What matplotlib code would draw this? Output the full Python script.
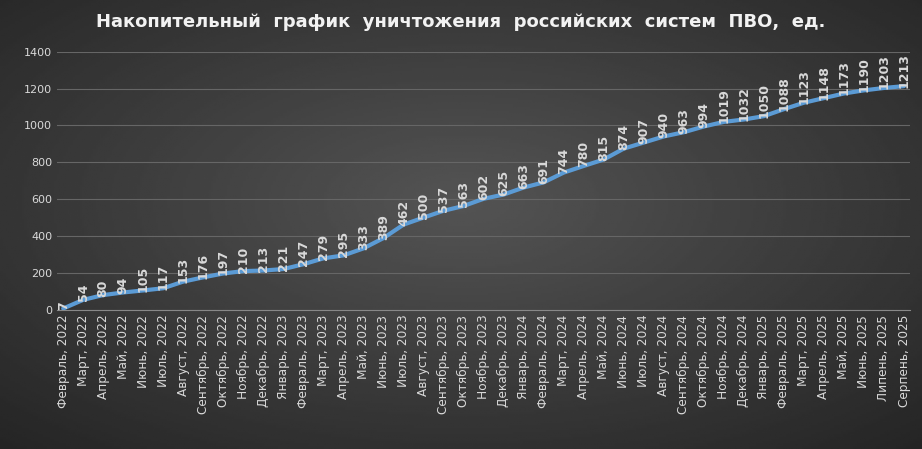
import numpy as np
import matplotlib.pyplot as plt

months = ['Февраль', 'Март', 'Апрель', 'Май', 'Июнь', 'Июль', 'Август', 'Сентябрь',
          'Октябрь', 'Ноябрь', 'Декабрь']
years_months = ([(m, 2022) for m in months] +
                [(m, 2023) for m in ['Январь'] + months] +
                [(m, 2024) for m in ['Январь'] + months] +
                [(m, 2025) for m in ['Январь', 'Февраль', 'Март', 'Апрель', 'Май', 'Июнь', 'Липень', 'Серпень']])
labels = ['{}, {}'.format(m, y) for m, y in years_months]
values = [7, 54, 80, 94, 105, 117, 153, 176, 197, 210, 213, 221, 247, 279, 295, 333, 389,
          462, 500, 537, 563, 602, 625, 663, 691, 744, 780, 815, 874, 907, 940, 963, 994,
          1019, 1032, 1050, 1088, 1123, 1148, 1173, 1190, 1203, 1213]

fig = plt.figure(figsize=(9.22, 4.49), dpi=100)

# radial-ish gradient background
bg = fig.add_axes([0, 0, 1, 1])
yy, xx = np.mgrid[0:1:200j, 0:1:400j]
r = np.sqrt(((xx - 0.5) / 0.8) ** 2 + ((yy - 0.45) / 0.8) ** 2)
bg.imshow(0.33 - 0.2 * r, cmap='gray', vmin=0, vmax=1, aspect='auto', extent=[0, 1, 0, 1])
bg.axis('off')

ax = fig.add_axes([0.062, 0.31, 0.925, 0.575])
ax.patch.set_alpha(0)
x = np.arange(len(values))
ax.plot(x, values, color='#5b9bd5', lw=3, solid_capstyle='round')
for xi, v in zip(x, values):
    ax.text(xi, v - 8, str(v), rotation=90, ha='center', va='bottom', color='#d9d9d9',
            fontsize=9, fontweight='bold')

ax.set_xlim(-0.3, len(values) - 0.7)
ax.set_ylim(0, 1400)
ax.set_yticks(range(0, 1401, 200))
ax.set_xticks(x)
ax.set_xticklabels(labels, rotation=90, color='#d9d9d9', fontsize=8.7)
ax.tick_params(axis='y', colors='#d9d9d9', labelsize=8, length=0)
ax.tick_params(axis='x', length=0)
ax.grid(axis='y', color='#666666', lw=0.8)
for s in ax.spines.values():
    s.set_visible(False)
ax.spines['bottom'].set_visible(True)
ax.spines['bottom'].set_color('#888888')

fig.text(0.5, 0.95, 'Накопительный  график  уничтожения  российских  систем  ПВО,  ед.',
         ha='center', va='center', color='#f2f2f2', fontsize=13, fontweight='bold')

fig.savefig('out.png', dpi=100)
